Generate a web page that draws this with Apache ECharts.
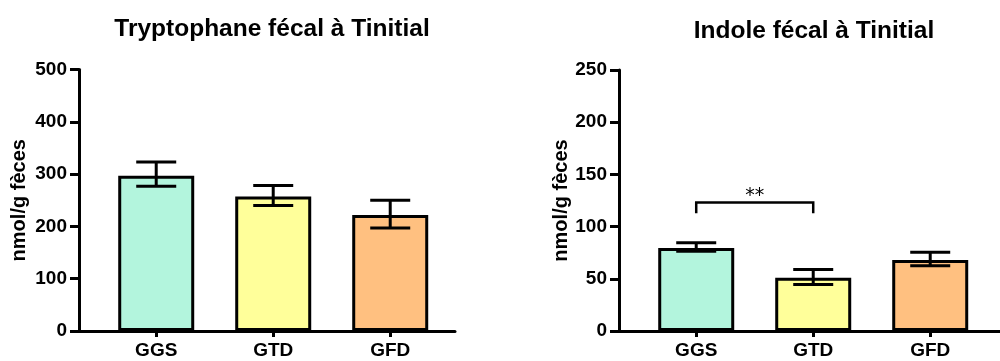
<!DOCTYPE html>
<html><head><meta charset="utf-8">
<script src="https://cdn.jsdelivr.net/npm/echarts@6/dist/echarts.min.js"></script>
<style>html,body{margin:0;padding:0;background:#fff}#c{width:1000px;height:361px}</style>
</head><body><div id="c"></div>
<script>
// ---- data ----
const categories = ['GGS', 'GTD', 'GFD'];
const barColors = ['#b3f5dd', '#ffff9a', '#ffc080'];
const tryptoMean = [297, 257, 222];
const tryptoHigh = [323, 278, 250];
const tryptoLow = [277, 240, 197];
const indoleMean = [79.5, 51, 68];
const indoleHigh = [84.5, 59, 75.5];
const indoleLow = [76.5, 44.5, 62.5];
const leftTicks = [0, 100, 200, 300, 400, 500];
const rightTicks = [0, 50, 100, 150, 200, 250];
const titles = ['Tryptophane fécal à Tinitial', 'Indole fécal à Tinitial'];
const yName = 'nmol/g fèces';
const sigFrom = 'GGS', sigTo = 'GTD';
const sigLegBottom = 112.7, sigTop = 123;
const sigLabel = '**';

// ---- build ----
const FONT = 'Liberation Sans, Arial, Helvetica, sans-serif';
const pos = categories.map((c, i) => i + 1);
const XMIN = 0.34, UNIT = 117;

function barData(vals) {
  return vals.map((v, i) => ({ value: [pos[i], v], itemStyle: { color: barColors[i] } }));
}
function errData(lo, hi) {
  return lo.map((l, i) => [pos[i], l, hi[i]]);
}
function errRender(params, api) {
  const x = api.value(0), lo = api.value(1), hi = api.value(2);
  const a = api.coord([x, hi]), b = api.coord([x, lo]);
  const hw = 20;
  const st = { stroke: '#000', lineWidth: 3 };
  return { type: 'group', children: [
    { type: 'line', shape: { x1: a[0], y1: a[1], x2: b[0], y2: b[1] }, style: st },
    { type: 'line', shape: { x1: a[0] - hw, y1: a[1], x2: a[0] + hw, y2: a[1] }, style: st },
    { type: 'line', shape: { x1: b[0] - hw, y1: b[1], x2: b[0] + hw, y2: b[1] }, style: st }
  ]};
}
function sigRender(params, api) {
  const x1 = api.value(0), x2 = api.value(1), yb = api.value(2), yt = api.value(3);
  const p1 = api.coord([x1, yb]), p2 = api.coord([x1, yt]), p3 = api.coord([x2, yt]), p4 = api.coord([x2, yb]);
  return { type: 'group', children: [
    { type: 'polyline', shape: { points: [p1, p2, p3, p4] }, style: { stroke: '#000', lineWidth: 2.5, fill: null } },
    { type: 'text', x: (p2[0] + p3[0]) / 2, y: p2[1] - 7,
      style: { text: sigLabel, font: 'normal 19px DejaVu Sans, sans-serif', fill: '#000', align: 'center', verticalAlign: 'middle' } }
  ]};
}

const axisLineStyle = { color: '#000', width: 3 };
function xAxis(gi, width) {
  return {
    type: 'value', gridIndex: gi, min: XMIN, max: XMIN + width / UNIT,
    splitLine: { show: false },
    axisLine: { show: true, onZero: false, lineStyle: axisLineStyle },
    axisTick: { show: true, customValues: pos, length: 6, lineStyle: { color: '#000', width: 3 } },
    axisLabel: { customValues: pos, formatter: v => categories[Math.round(v) - 1] || '',
      color: '#000', fontWeight: 'bold', fontSize: 19, fontFamily: FONT, margin: 10 }
  };
}
function yAxis(gi, ticks, gap) {
  return {
    type: 'value', gridIndex: gi, min: ticks[0], max: ticks[ticks.length - 1],
    interval: ticks[1] - ticks[0],
    splitLine: { show: false },
    axisLine: { show: true, onZero: false, lineStyle: axisLineStyle },
    axisTick: { show: true, length: 9, lineStyle: { color: '#000', width: 3 } },
    axisLabel: { color: '#000', fontWeight: 'bold', fontSize: 19, fontFamily: FONT, margin: 12 },
    name: yName, nameLocation: 'middle', nameGap: gap,
    nameTextStyle: { color: '#000', fontWeight: 'bold', fontSize: 20, fontFamily: FONT }
  };
}

const chart = echarts.init(document.getElementById('c'), null, { renderer: 'canvas' });
const option = {
  animation: false,
  backgroundColor: '#fff',
  title: [
    { text: titles[0], left: 272, top: 17, textAlign: 'center', padding: 0,
      textStyle: { fontSize: 24.5, fontWeight: 'bold', color: '#000', fontFamily: FONT } },
    { text: titles[1], left: 814, top: 19, textAlign: 'center', padding: 0,
      textStyle: { fontSize: 24.5, fontWeight: 'bold', color: '#000', fontFamily: FONT } }
  ],
  grid: [
    { left: 79, top: 69.5, width: 376, height: 261.5 },
    { left: 619, top: 70, width: 381, height: 261 }
  ],
  xAxis: [xAxis(0, 376), xAxis(1, 381)],
  yAxis: [yAxis(0, leftTicks, 50), yAxis(1, rightTicks, 47)],
  series: [
    { type: 'bar', xAxisIndex: 0, yAxisIndex: 0, barWidth: 76, data: barData(tryptoMean),
      itemStyle: { borderColor: '#000', borderWidth: 3 }, z: 2 },
    { type: 'custom', xAxisIndex: 0, yAxisIndex: 0, data: errData(tryptoLow, tryptoHigh),
      encode: { x: 0, y: [1, 2] }, renderItem: errRender, z: 3 },
    { type: 'bar', xAxisIndex: 1, yAxisIndex: 1, barWidth: 76, data: barData(indoleMean),
      itemStyle: { borderColor: '#000', borderWidth: 3 }, z: 2 },
    { type: 'custom', xAxisIndex: 1, yAxisIndex: 1, data: errData(indoleLow, indoleHigh),
      encode: { x: 0, y: [1, 2] }, renderItem: errRender, z: 3 },
    { type: 'custom', xAxisIndex: 1, yAxisIndex: 1,
      data: [[pos[categories.indexOf(sigFrom)], pos[categories.indexOf(sigTo)], sigLegBottom, sigTop]],
      encode: { x: [0, 1], y: [2, 3] }, renderItem: sigRender, z: 3 }
  ]
};
chart.setOption(option);
</script>
</body></html>
